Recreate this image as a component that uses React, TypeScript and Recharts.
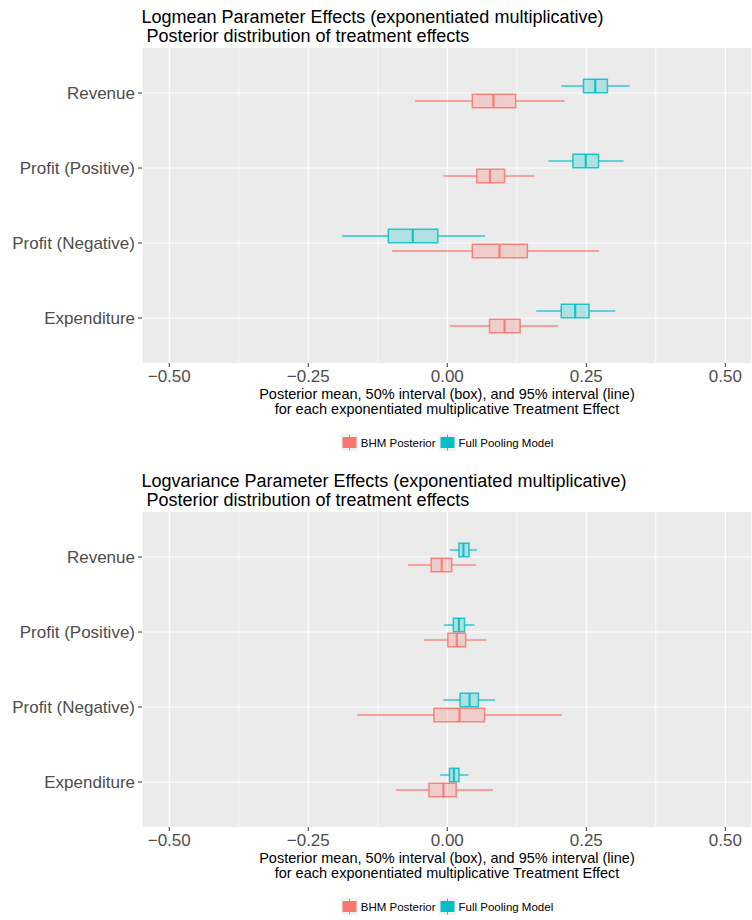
import React from 'react';
import { ComposedChart, Bar, XAxis, YAxis, CartesianGrid, ReferenceLine, Legend } from 'recharts';

const categories = ['Revenue', 'Profit (Positive)', 'Profit (Negative)', 'Expenditure'];
const seriesNames = ['BHM Posterior', 'Full Pooling Model'];
const xTicks = [-0.5, -0.25, 0, 0.25, 0.5];
const xMinorTicks = [-0.375, -0.125, 0.125, 0.375];

// each row: [2.5%, 25%, median, 75%, 97.5%] per category
const logmeanBHM = [
  [-0.058, 0.045, 0.083, 0.123, 0.211],
  [-0.007, 0.053, 0.077, 0.103, 0.157],
  [-0.099, 0.045, 0.094, 0.144, 0.273],
  [0.005, 0.076, 0.103, 0.131, 0.199],
];
const logmeanPool = [
  [0.205, 0.245, 0.266, 0.288, 0.328],
  [0.182, 0.226, 0.249, 0.272, 0.317],
  [-0.189, -0.106, -0.062, -0.017, 0.068],
  [0.16, 0.205, 0.23, 0.255, 0.302],
];
const logvarBHM = [
  [-0.071, -0.029, -0.01, 0.008, 0.052],
  [-0.042, 0.001, 0.017, 0.033, 0.071],
  [-0.162, -0.024, 0.022, 0.067, 0.206],
  [-0.092, -0.033, -0.007, 0.016, 0.082],
];
const logvarPool = [
  [0.005, 0.021, 0.029, 0.039, 0.053],
  [-0.006, 0.011, 0.021, 0.031, 0.049],
  [-0.007, 0.023, 0.04, 0.056, 0.086],
  [-0.013, 0.004, 0.012, 0.021, 0.038],
];

const COLOR_BHM = '#F8766D';
const COLOR_POOL = '#00BFC4';
const FONT = '"Liberation Sans", Arial, Helvetica, sans-serif';
const W = 752;

function buildRows(bhm: number[][], pool: number[][]) {
  return categories.map((name, i) => ({
    name,
    bhm: bhm[i],
    pool: pool[i],
    bhmRange: [bhm[i][0], bhm[i][4]],
    poolRange: [pool[i][0], pool[i][4]],
  }));
}

const makeBoxShape = (key: string, color: string) => (props: any) => {
  const { x, y, width, height, payload } = props;
  const s: number[] = payload[key];
  const lo = s[0];
  const hi = s[4];
  const left = Math.min(x, x + width);
  const w = Math.abs(width);
  const k = w / (hi - lo);
  const px = (v: number) => left + (v - lo) * k;
  const cy = y + height / 2;
  const top = y + 0.75;
  const bot = y + height - 0.75;
  return (
    <g>
      <line x1={px(s[0])} x2={px(s[1])} y1={cy} y2={cy} stroke={color} strokeWidth={1.4} strokeOpacity={0.85} />
      <line x1={px(s[3])} x2={px(s[4])} y1={cy} y2={cy} stroke={color} strokeWidth={1.4} strokeOpacity={0.85} />
      <rect
        x={px(s[1])}
        y={top}
        width={px(s[3]) - px(s[1])}
        height={bot - top}
        fill={color}
        fillOpacity={0.25}
        stroke={color}
        strokeOpacity={0.85}
        strokeWidth={1.5}
      />
      <line x1={px(s[2])} x2={px(s[2])} y1={top} y2={bot} stroke={color} strokeWidth={2.2} strokeOpacity={0.9} />
    </g>
  );
};

const fmt = (v: number) => (v < 0 ? '\u2212' : '') + Math.abs(v).toFixed(2);

const LegendKey = ({ color }: { color: string }) => (
  <svg width={17} height={17} style={{ display: 'block' }}>
    <rect x={0} y={0} width={17} height={17} fill="#F2F2F2" />
    <line x1={8.5} x2={8.5} y1={0.5} y2={16.5} stroke={color} strokeWidth={1} />
    <rect x={1.5} y={3} width={14} height={11} fill={color} />
  </svg>
);

const renderLegend = () => (
  <div
    style={{
      display: 'flex',
      justifyContent: 'center',
      alignItems: 'center',
      fontFamily: FONT,
      fontSize: 11.5,
      color: '#000',
    }}
  >
    {seriesNames.map((n, i) => (
      <div key={n} style={{ display: 'flex', alignItems: 'center', marginRight: i === 0 ? 3 : 0 }}>
        <LegendKey color={i === 0 ? COLOR_BHM : COLOR_POOL} />
        <span style={{ marginLeft: 3, whiteSpace: 'nowrap' }}>{n}</span>
      </div>
    ))}
  </div>
);

interface PanelProps {
  height: number;
  bhm: number[][];
  pool: number[][];
  title1: string;
  title2: string;
  t1x: number;
  t1y: number;
  t2x: number;
  t2y: number;
  tSize: number;
}

const Panel = (p: PanelProps) => {
  const rows = buildRows(p.bhm, p.pool);
  const plotBottom = 363;
  return (
    <div style={{ position: 'relative', width: W, height: p.height }}>
      <ComposedChart
        width={W}
        height={p.height}
        data={rows}
        layout="vertical"
        margin={{ top: 48, right: 0, left: 0, bottom: p.height - plotBottom - 30 }}
        barGap={0}
      >
        <CartesianGrid fill="#EBEBEB" stroke="#FFFFFF" strokeWidth={1.2} horizontal={false} vertical={true} />
        {xMinorTicks.map((v) => (
          <ReferenceLine key={'m' + v} x={v} stroke="#FFFFFF" strokeWidth={0.7} zIndex={-90} />
        ))}
        {categories.map((c) => (
          <ReferenceLine key={'c' + c} y={c} stroke="#FFFFFF" strokeWidth={1.2} zIndex={-90} />
        ))}
        <XAxis
          type="number"
          domain={[-0.549, 0.548]}
          allowDataOverflow
          ticks={xTicks}
          interval={0}
          tickFormatter={fmt}
          axisLine={false}
          tickLine={{ stroke: '#333333', strokeWidth: 1 }}
          tickSize={4}
          tickMargin={3}
          height={30}
          tick={{ fill: '#4D4D4D', fontSize: 17, fontFamily: FONT }}
        />
        <YAxis
          type="category"
          dataKey="name"
          width={142}
          padding={{ top: 7.5, bottom: 7.5 }}
          axisLine={false}
          tickLine={{ stroke: '#333333', strokeWidth: 1 }}
          tickSize={4}
          tickMargin={3}
          interval={0}
          tick={{ fill: '#4D4D4D', fontSize: 17, fontFamily: FONT }}
        />
        <Bar
          dataKey="poolRange"
          name={seriesNames[1]}
          barSize={15}
          fill={COLOR_POOL}
          isAnimationActive={false}
          shape={makeBoxShape('pool', COLOR_POOL)}
        />
        <Bar
          dataKey="bhmRange"
          name={seriesNames[0]}
          barSize={15}
          fill={COLOR_BHM}
          isAnimationActive={false}
          shape={makeBoxShape('bhm', COLOR_BHM)}
        />
        <Legend
          layout="horizontal"
          verticalAlign="middle"
          align="center"
          content={renderLegend}
          wrapperStyle={{ top: 434, left: 142, width: 610 }}
        />
      </ComposedChart>
      <svg
        width={W}
        height={p.height}
        style={{ position: 'absolute', left: 0, top: 0, pointerEvents: 'none' }}
      >
        <text x={p.t1x} y={p.t1y} fontFamily={FONT} fontSize={p.tSize} fill="#000">
          {p.title1}
        </text>
        <text x={p.t2x} y={p.t2y} fontFamily={FONT} fontSize={p.tSize} fill="#000">
          {p.title2}
        </text>
        <text x={447} y={398.5} fontFamily={FONT} fontSize={14.5} fill="#000" textAnchor="middle">
          Posterior mean, 50% interval (box), and 95% interval (line)
        </text>
        <text x={447} y={413.5} fontFamily={FONT} fontSize={14.5} fill="#000" textAnchor="middle">
          for each exponentiated multiplicative Treatment Effect
        </text>
      </svg>
    </div>
  );
};

export default function App() {
  return (
    <div style={{ position: 'absolute', left: 0, top: 0, width: W, height: 920, background: '#FFFFFF' }}>
      <Panel
        height={464}
        bhm={logmeanBHM}
        pool={logmeanPool}
        title1="Logmean Parameter Effects (exponentiated multiplicative)"
        title2="Posterior distribution of treatment effects"
        t1x={141.5}
        t1y={23}
        t2x={146.5}
        t2y={42}
        tSize={18}
      />
      <Panel
        height={456}
        bhm={logvarBHM}
        pool={logvarPool}
        title1="Logvariance Parameter Effects (exponentiated multiplicative)"
        title2="Posterior distribution of treatment effects"
        t1x={141.5}
        t1y={23}
        t2x={146.5}
        t2y={42}
        tSize={18}
      />
    </div>
  );
}
